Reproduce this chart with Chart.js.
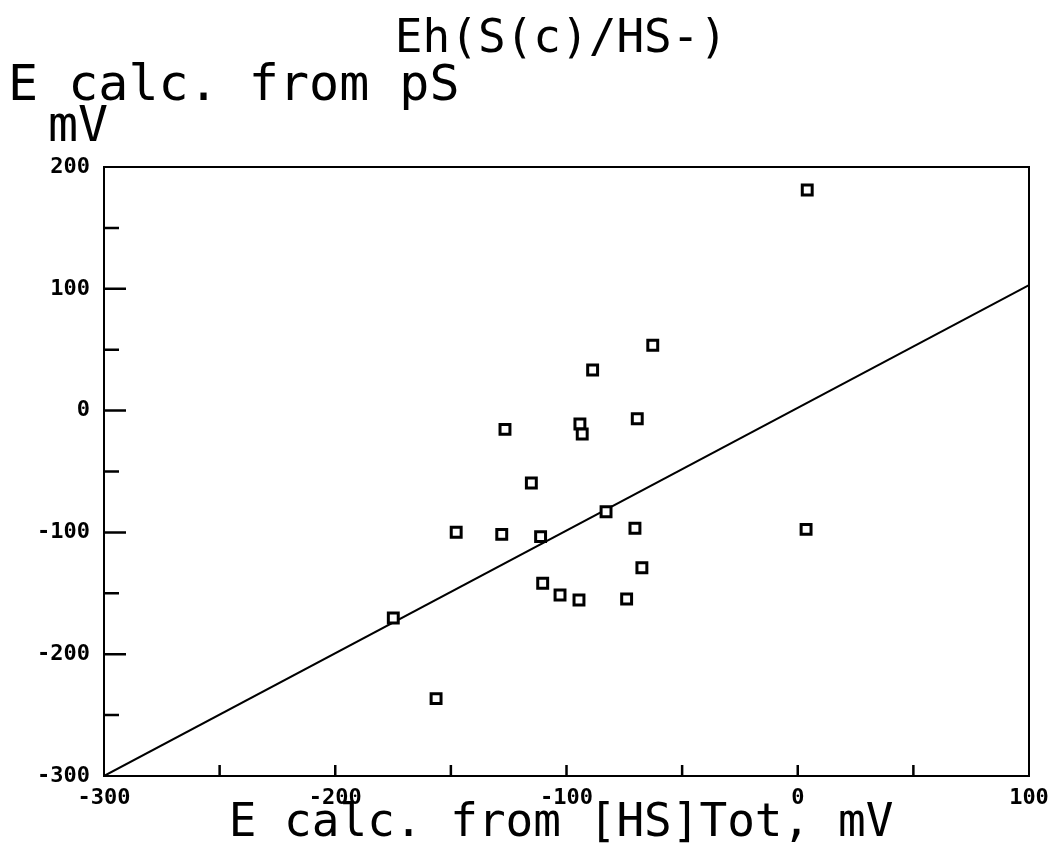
<!DOCTYPE html>
<html>
<head>
<meta charset="utf-8">
<script src="https://cdn.jsdelivr.net/npm/chart.js@4.4.1/dist/chart.umd.min.js"></script>
<style>
    html, body { margin: 0; padding: 0; background: #ffffff; }
    #wrap { width: 1050px; height: 852px; position: relative; }
</style>
</head>
<body>
<div id="wrap"><canvas id="ehChart" width="1050" height="852"></canvas></div>
<script>
// E calc. from [HS]Tot (x) vs E calc. from pS (y), mV
const xValues = [-62.7, -88.7, -126.6, -94.2, -93.2, -69.4, -115.2, -82.9, -147.7, -128,
    -111.2, -70.4, -67.4, -110.3, -102.8, -94.6, -74, -174.9, -156.4, 4.1, 3.6];
const yValues = [53.6, 33.3, -15.4, -11, -19.2, -6.7, -59.4, -83, -99.9, -101.6,
    -103.5, -96.6, -129, -141.8, -151.4, -155.5, -154.7, -170.3, -236.5, 181.1, -97.5];
const lineX = [-300, 100];
const lineY = [-300, 103];
const xTicks = [-300, -200, -100, 0, 100];
const yTicks = [-300, -200, -100, 0, 100, 200];

const plotFont = '"DejaVu Sans Mono", "Liberation Mono", monospace';

const points = xValues.map((x, i) => ({ x: x, y: yValues[i] }));
const fitLine = lineX.map((x, i) => ({ x: x, y: lineY[i] }));

// frame, inward ticks and the text around the plot
const framePlugin = {
    id: 'framePlugin',
    afterDraw(chart) {
        const ctx = chart.ctx;
        const area = chart.chartArea;
        const xs = chart.scales.x;
        const ys = chart.scales.y;
        ctx.save();
        ctx.strokeStyle = '#000';
        ctx.lineWidth = 2;
        ctx.strokeRect(area.left, area.top, area.right - area.left, area.bottom - area.top);
        ctx.lineWidth = 2.5;
        ctx.beginPath();
        for (let v = -250; v < 200; v += 50) {
            const py = ys.getPixelForValue(v);
            const len = v % 100 === 0 ? 22 : 15;
            ctx.moveTo(area.left, py);
            ctx.lineTo(area.left + len, py);
        }
        for (let v = -250; v < 100; v += 50) {
            const px = xs.getPixelForValue(v);
            ctx.moveTo(px, area.bottom);
            ctx.lineTo(px, area.bottom - 11);
        }
        ctx.stroke();

        ctx.fillStyle = '#000';
        ctx.textBaseline = 'alphabetic';
        ctx.font = '46px ' + plotFont;
        ctx.textAlign = 'center';
        ctx.fillText('Eh(S(c)/HS-)', 561, 52);
        ctx.textAlign = 'left';
        ctx.font = '50px ' + plotFont;
        ctx.fillText('E calc. from pS', 8, 100);
        ctx.fillText('mV', 48, 141);
        ctx.textAlign = 'center';
        ctx.font = '46px ' + plotFont;
        ctx.fillText('E calc. from [HS]Tot, mV', 561, 836);
        ctx.restore();
    }
};

const ctx = document.getElementById('ehChart').getContext('2d');
window.ehChart = new Chart(ctx, {
    type: 'scatter',
    data: {
        datasets: [{
            label: 'Samples',
            data: points,
            order: 0,
            pointStyle: 'rect',
            pointRadius: 7,
            pointHoverRadius: 7,
            borderWidth: 3,
            borderColor: '#000',
            backgroundColor: '#fff'
        }, {
            label: 'Fit',
            type: 'line',
            data: fitLine,
            order: 1,
            showLine: true,
            pointRadius: 0,
            borderWidth: 2,
            borderColor: '#000',
            fill: false,
            tension: 0
        }]
    },
    options: {
        responsive: false,
        animation: false,
        events: [],
        layout: {
            padding: { top: 167, right: 0, left: 0, bottom: 0 }
        },
        plugins: {
            legend: { display: false },
            tooltip: { enabled: false },
            title: { display: false }
        },
        scales: {
            x: {
                type: 'linear',
                min: -300,
                max: 100,
                afterFit: scale => { scale.height = 76; scale.paddingRight = 21; },
                afterBuildTicks: scale => { scale.ticks = xTicks.map(v => ({ value: v })); },
                grid: { display: false, drawTicks: false },
                border: { display: false },
                ticks: {
                    autoSkip: false,
                    maxRotation: 0,
                    padding: 9,
                    color: '#000',
                    font: { family: plotFont, size: 22, weight: 'bold' }
                }
            },
            y: {
                type: 'linear',
                min: -300,
                max: 200,
                afterFit: scale => { scale.width = 104; },
                afterBuildTicks: scale => { scale.ticks = yTicks.map(v => ({ value: v })); },
                grid: { display: false, drawTicks: false },
                border: { display: false },
                ticks: {
                    autoSkip: false,
                    padding: 14,
                    color: '#000',
                    font: { family: plotFont, size: 22, weight: 'bold' }
                }
            }
        }
    },
    plugins: [framePlugin]
});
</script>
</body>
</html>
